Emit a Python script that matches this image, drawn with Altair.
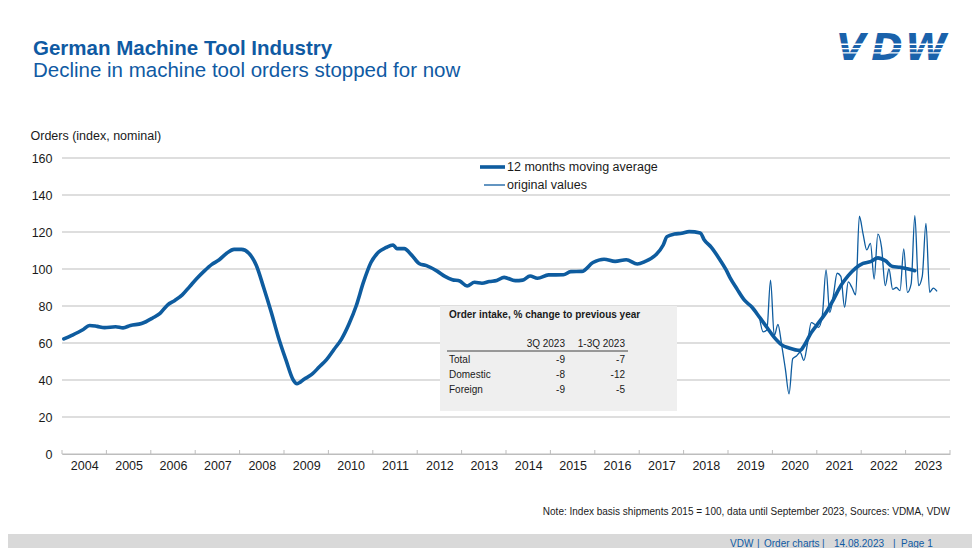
import altair as alt
import pandas as pd

# ---------------- data ----------------
MA_MONTHS = [
    "2004-01", "2004-03", "2004-06", "2004-08", "2004-10", "2004-12",
    "2005-03", "2005-05", "2005-07", "2005-10",
    "2006-01", "2006-03", "2006-05", "2006-07", "2006-09", "2006-11",
    "2007-01", "2007-03", "2007-05", "2007-07", "2007-09", "2007-11",
    "2008-01", "2008-03", "2008-05", "2008-07", "2008-09", "2008-11",
    "2009-01", "2009-03", "2009-04", "2009-06", "2009-08", "2009-10", "2009-12",
    "2010-02", "2010-04", "2010-06", "2010-08", "2010-10", "2010-12",
    "2011-02", "2011-04", "2011-06", "2011-07", "2011-09", "2011-11",
    "2012-01", "2012-03", "2012-06", "2012-08", "2012-10", "2012-12",
    "2013-02", "2013-04", "2013-06", "2013-08", "2013-10", "2013-12",
    "2014-03", "2014-05", "2014-07", "2014-09", "2014-12",
    "2015-04", "2015-06", "2015-09", "2015-12",
    "2016-03", "2016-06", "2016-09", "2016-12",
    "2017-02", "2017-05", "2017-07", "2017-08", "2017-10", "2017-12",
    "2018-02", "2018-05", "2018-06", "2018-08", "2018-10", "2018-12",
    "2019-01", "2019-03", "2019-05", "2019-07", "2019-09", "2019-11",
    "2020-01", "2020-03", "2020-05", "2020-08", "2020-09", "2020-11",
    "2021-01", "2021-03", "2021-05", "2021-07", "2021-09", "2021-11",
    "2022-01", "2022-03", "2022-05", "2022-07", "2022-09", "2022-11", "2022-12",
    "2023-03",
]
MA_VALUES = [
    62.2, 64.0, 67.0, 69.5, 69.0, 68.3,
    68.8, 68.2, 69.5, 70.5,
    73.5, 76.0, 80.5, 83.0, 86.0, 90.5,
    95.0, 99.0, 102.5, 105.0, 108.5, 110.6,
    110.6, 108.5, 102.0, 90.0, 77.0, 63.0,
    51.0, 40.0, 38.0, 40.5, 43.0, 47.0, 51.0,
    56.5, 62.0, 70.0, 80.0, 93.0, 103.5,
    109.0, 111.5, 113.0, 111.0, 111.0, 107.5,
    103.0, 101.8, 98.7, 96.0, 94.2, 93.5,
    90.8, 92.8, 92.3, 93.2, 93.8, 95.5,
    93.7, 94.0, 96.2, 95.0, 96.8,
    96.9, 98.6, 98.7, 103.5,
    105.3, 104.1, 105.0, 102.7,
    104.0, 107.7, 113.0, 117.5, 118.9, 119.3,
    120.2, 119.5, 116.0, 111.7, 106.0, 99.5,
    95.5, 89.0, 83.0, 79.3, 74.0, 68.5,
    63.0, 59.0, 57.3, 56.0, 58.4, 65.6,
    71.0, 76.5, 83.5, 91.0, 96.4, 100.5,
    103.0, 104.0, 106.0, 104.5, 101.3, 100.9, 100.5,
    99.1,
]

ORIG_MONTHS = [
    "2019-09", "2019-10", "2019-11", "2019-12",
    "2020-01", "2020-02", "2020-03", "2020-04", "2020-05", "2020-06",
    "2020-07", "2020-08", "2020-09", "2020-10", "2020-11", "2020-12",
    "2021-01", "2021-02", "2021-03", "2021-04", "2021-05", "2021-06",
    "2021-07", "2021-08", "2021-09", "2021-10", "2021-11", "2021-12",
    "2022-01", "2022-02", "2022-03", "2022-04", "2022-05", "2022-06",
    "2022-07", "2022-08", "2022-09", "2022-10", "2022-11", "2022-12",
    "2023-01", "2023-02", "2023-03", "2023-04", "2023-05", "2023-06",
    "2023-07", "2023-08", "2023-09",
]
ORIG_VALUES = [
    74.0, 66.0, 67.0, 94.0,
    64.0, 70.0, 59.0, 46.0, 32.5, 51.5,
    53.0, 55.0, 50.6, 60.0, 71.0, 70.0,
    68.5, 75.0, 99.5, 76.5, 86.0, 97.7,
    96.0, 79.3, 93.0, 90.0, 86.0, 128.5,
    119.0, 110.3, 113.9, 94.6, 118.9, 111.7,
    91.0, 100.0, 89.0, 90.0, 88.3, 110.8,
    87.4, 92.0, 128.8, 91.0, 96.0, 124.7,
    87.4, 89.7, 87.9,
]

YEARS = list(range(2004, 2024))
Y_TICKS = [0, 20, 40, 60, 80, 100, 120, 140, 160]

TABLE_TITLE = "Order intake, % change to previous year"
TABLE_HEAD = ["3Q 2023", "1-3Q 2023"]
TABLE_ROWS = ["Total", "Domestic", "Foreign"]
TABLE_3Q = ["-9", "-8", "-9"]
TABLE_13Q = ["-7", "-12", "-5"]

TITLE = "German Machine Tool Industry"
SUBTITLE = "Decline in machine tool orders stopped for now"
Y_TITLE = "Orders (index, nominal)"
LEGEND = ["12 months moving average", "original values"]
NOTE = "Note: Index basis shipments 2015 = 100, data until September 2023, Sources: VDMA, VDW"
FOOTER = ["VDW", "|", "Order charts", "|", "14.08.2023", "|", "Page 1"]

# ---------------- style ----------------
W, H = 888, 296
BLUE = "#0e5c9f"
TITLE_BLUE = "#0f5aa3"
LOGO_BLUE = "#1a62ab"
GRID = "#bdbdbd"
TEXT = "#1a1a1a"
FONT = "Liberation Sans"


def month_pos(m):
    y, mo = m.split("-")
    return int(y) + (int(mo) - 0.5) / 12.0


ma_df = pd.DataFrame({"t": [month_pos(m) for m in MA_MONTHS], "v": MA_VALUES})
orig_df = pd.DataFrame({"t": [month_pos(m) for m in ORIG_MONTHS], "v": ORIG_VALUES})
tick_df = pd.DataFrame({"t": YEARS + [YEARS[-1] + 1]})
grid_df = pd.DataFrame({"v": Y_TICKS})

x_scale = alt.Scale(domain=[2004, 2024], nice=False, zero=False)
y_scale = alt.Scale(domain=[0, 160], nice=False)

x_axis = alt.Axis(
    values=[y + 0.5 for y in YEARS],
    labelExpr="floor(datum.value)",
    ticks=False,
    grid=False,
    domain=True,
    domainColor=GRID,
    domainWidth=1,
    labelPadding=5,
    labelFontSize=12.5,
    labelFont=FONT,
    labelColor=TEXT,
    labelOverlap=False,
    title=None,
)
y_axis = alt.Axis(
    values=Y_TICKS,
    tickCount=len(Y_TICKS),
    labelOverlap=False,
    ticks=False,
    domain=False,
    grid=False,
    labelPadding=10,
    labelFontSize=12.5,
    labelFont=FONT,
    labelColor=TEXT,
    title=Y_TITLE,
    titleAngle=0,
    titleAlign="left",
    titleBaseline="middle",
    titleX=-32,
    titleY=-23,
    titleFont=FONT,
    titleFontSize=12.5,
    titleFontWeight="normal",
    titleColor=TEXT,
)

gridlines = alt.Chart(grid_df).mark_rule(color=GRID, strokeWidth=1).encode(
    y=alt.Y("v:Q", scale=y_scale, axis=y_axis),
    x=alt.value(0),
    x2=alt.value(W),
)

ma_line = alt.Chart(ma_df).mark_line(
    interpolate="monotone", strokeWidth=3.6, color=BLUE, strokeCap="round", strokeJoin="round"
).encode(
    x=alt.X("t:Q", scale=x_scale, axis=x_axis),
    y=alt.Y("v:Q", scale=y_scale, axis=y_axis),
)

orig_line = alt.Chart(orig_df).mark_line(
    interpolate="monotone", strokeWidth=1.3, color=BLUE
).encode(
    x=alt.X("t:Q", scale=x_scale, axis=x_axis),
    y=alt.Y("v:Q", scale=y_scale, axis=y_axis),
)

year_ticks = alt.Chart(tick_df).mark_rule(color=GRID, strokeWidth=1).encode(
    x=alt.X("t:Q", scale=x_scale, axis=x_axis),
    y=alt.value(H - 4),
    y2=alt.value(H),
)

one = pd.DataFrame({"s": [""]})


def label(text, x, y, size=12.5, weight="normal", align="left", color=TEXT,
          baseline="middle", font=FONT, style="normal"):
    return alt.Chart(pd.DataFrame({"s": [text]})).mark_text(
        align=align, baseline=baseline, fontSize=size, fontWeight=weight,
        color=color, font=font, fontStyle=style,
    ).encode(text="s:N", x=alt.value(x), y=alt.value(y))


def box(x, x2, y, y2, color):
    return alt.Chart(one).mark_rect(color=color).encode(
        x=alt.value(x), x2=alt.value(x2), y=alt.value(y), y2=alt.value(y2)
    )


def hline(x, x2, y, color, width):
    return alt.Chart(one).mark_rule(color=color, strokeWidth=width).encode(
        x=alt.value(x), x2=alt.value(x2), y=alt.value(y)
    )


layers = [gridlines, ma_line, orig_line, year_ticks]

# legend (manual)
layers += [
    hline(418, 443, 9, BLUE, 3.6),
    label(LEGEND[0], 445, 9),
    hline(422, 443, 27, BLUE, 1.3),
    label(LEGEND[1], 445, 27),
]

# table box
layers += [
    box(378, 615, 148, 253, "#efefef"),
    label(TABLE_TITLE, 387, 157, size=10, weight="bold"),
    label(TABLE_HEAD[0], 503, 186, size=10, align="right"),
    label(TABLE_HEAD[1], 563, 186, size=10, align="right"),
    hline(385, 566, 193, "#404040", 1),
]
for i, (r, a, b) in enumerate(zip(TABLE_ROWS, TABLE_3Q, TABLE_13Q)):
    yy = 202 + i * 15
    layers += [
        label(r, 387, yy, size=10),
        label(a, 503, yy, size=10, align="right"),
        label(b, 563, yy, size=10, align="right"),
    ]

# titles
layers += [
    label(TITLE, -29, -103, size=20.5, weight="bold", color=TITLE_BLUE, baseline="alphabetic"),
    label(SUBTITLE, -29, -81, size=20.5, color=TITLE_BLUE, baseline="alphabetic"),
]

# logo
for letter, cx in zip("VDW", [789, 825, 864]):
    layers.append(label(letter, cx, -98.5, size=38, weight="bold", color=LOGO_BLUE,
                        align="center", baseline="alphabetic", font="DejaVu Sans",
                        style="italic"))
for yy in [-113.7, -109.4, -105.1]:
    layers.append(hline(766, 892, yy, "white", 1.4))

# note & footer
layers += [
    label(NOTE, 888, 354, size=10, align="right"),
    box(-54, 910, 376, 392, "#d9d9d9"),
]
footer_x = [668, 695, 702, 760, 772, 831, 839]
for t, fx in zip(FOOTER, footer_x):
    layers.append(label(t, fx, 386, size=10, color=TITLE_BLUE))

chart = alt.layer(*layers).properties(
    width=W,
    height=H,
    autosize=alt.AutoSizeParams(type="none"),
    padding={"left": 54, "top": 150, "right": 22, "bottom": 94},
).configure_view(stroke=None)

chart.save("out.html", embed_options={"renderer": "svg", "actions": False})
